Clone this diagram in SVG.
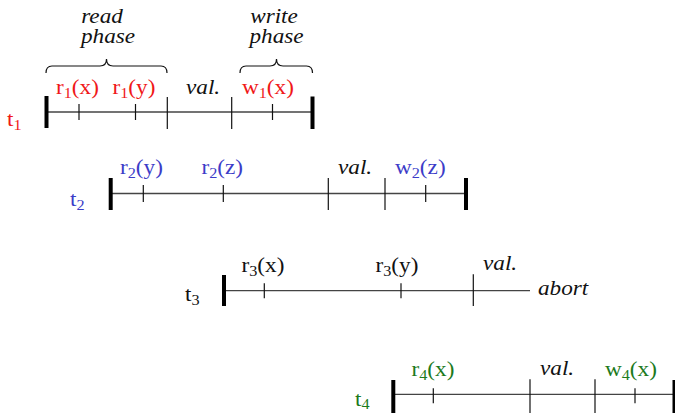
<svg xmlns="http://www.w3.org/2000/svg" width="675" height="413" viewBox="0 0 675 413" font-family="Liberation Serif, Times New Roman, serif">
<style>
text{font-family:'Liberation Serif','Times New Roman',Times,serif;font-size:20px}
.it{font-style:italic;fill:#111}
.red{fill:#f01818}
.blue{fill:#3c3cc8}
.green{fill:#1c7a1c}
.blk{fill:#111}
.s{font-size:14px}
.axis{stroke:#444;stroke-width:1.3;fill:none}
.tk{stroke:#111;stroke-width:1.2}
.bar{stroke:#000;stroke-width:4}
.brace{stroke:#111;stroke-width:1.2;fill:none}
</style>
<g id="t1">
<line class="axis" x1="47" y1="112" x2="312" y2="112"/>
<line class="bar" x1="46.5" y1="96" x2="46.5" y2="128"/>
<line class="bar" x1="312.5" y1="96.5" x2="312.5" y2="129"/>
<line class="tk" x1="79" y1="104" x2="79" y2="120"/>
<line class="tk" x1="135.5" y1="104" x2="135.5" y2="120"/>
<line class="tk" x1="167.3" y1="97" x2="167.3" y2="129"/>
<line class="tk" x1="231.7" y1="97" x2="231.7" y2="129"/>
<line class="tk" x1="272.5" y1="104" x2="272.5" y2="120"/>
<path class="brace" d="M46,73 C46,68 48,66 52,66 L100,66 C104,66 106.5,64 106.5,59 C106.5,64 109,66 113,66 L161,66 C165,66 167,68 167,73"/>
<path class="brace" d="M240,73 C240,68 242,66 246,66 L270,66 C274,66 276.5,64 276.5,59 C276.5,64 279,66 283,66 L306.5,66 C310.5,66 312.5,68 312.5,73"/>
<text class="it" text-anchor="middle" transform="translate(102,23) scale(1.16,1)">read</text>
<text class="it" text-anchor="middle" transform="translate(108,43) scale(1.16,1)">phase</text>
<text class="it" text-anchor="middle" transform="translate(274,23) scale(1.16,1)">write</text>
<text class="it" text-anchor="middle" transform="translate(276.5,43) scale(1.16,1)">phase</text>
<text class="red" transform="translate(7,126) scale(1.16,1)">t<tspan class="s" dy="4">1</tspan></text>
<text class="red" transform="translate(56,94) scale(1.16,1)">r<tspan class="s" dy="4">1</tspan><tspan dy="-4">(x)</tspan></text>
<text class="red" transform="translate(112.5,94) scale(1.16,1)">r<tspan class="s" dy="4">1</tspan><tspan dy="-4">(y)</tspan></text>
<text class="it" transform="translate(186,94) scale(1.16,1)">val.</text>
<text class="red" transform="translate(242,94) scale(1.16,1)">w<tspan class="s" dy="4">1</tspan><tspan dy="-4">(x)</tspan></text>
</g>
<g id="t2">
<line class="axis" x1="111" y1="193.5" x2="466" y2="193.5"/>
<line class="bar" x1="110.7" y1="178" x2="110.7" y2="210"/>
<line class="bar" x1="466" y1="178" x2="466" y2="210"/>
<line class="tk" x1="143.3" y1="185" x2="143.3" y2="202"/>
<line class="tk" x1="223.3" y1="185" x2="223.3" y2="202"/>
<line class="tk" x1="328.3" y1="178" x2="328.3" y2="210"/>
<line class="tk" x1="385" y1="178" x2="385" y2="210"/>
<line class="tk" x1="425.7" y1="185" x2="425.7" y2="202"/>
<text class="blue" transform="translate(70,206) scale(1.16,1)">t<tspan class="s" dy="4">2</tspan></text>
<text class="blue" transform="translate(120,173.5) scale(1.16,1)">r<tspan class="s" dy="4">2</tspan><tspan dy="-4">(y)</tspan></text>
<text class="blue" transform="translate(201.5,173.5) scale(1.16,1)">r<tspan class="s" dy="4">2</tspan><tspan dy="-4">(z)</tspan></text>
<text class="it" transform="translate(338,173.5) scale(1.16,1)">val.</text>
<text class="blue" transform="translate(395,173.5) scale(1.16,1)">w<tspan class="s" dy="4">2</tspan><tspan dy="-4">(z)</tspan></text>
</g>
<g id="t3">
<line class="axis" x1="224" y1="290.7" x2="530" y2="290.7"/>
<line class="bar" x1="224" y1="275" x2="224" y2="306"/>
<line class="tk" x1="264.3" y1="283.3" x2="264.3" y2="298.3"/>
<line class="tk" x1="401" y1="283.3" x2="401" y2="298.3"/>
<line class="tk" x1="473.3" y1="274.3" x2="473.3" y2="306"/>
<text class="blk" transform="translate(185,301) scale(1.16,1)">t<tspan class="s" dy="4">3</tspan></text>
<text class="blk" transform="translate(241.5,272) scale(1.16,1)">r<tspan class="s" dy="4">3</tspan><tspan dy="-4">(x)</tspan></text>
<text class="blk" transform="translate(375.5,272) scale(1.16,1)">r<tspan class="s" dy="4">3</tspan><tspan dy="-4">(y)</tspan></text>
<text class="it" transform="translate(483,270) scale(1.16,1)">val.</text>
<text class="it" transform="translate(538,295) scale(1.16,1)">abort</text>
</g>
<g id="t4">
<line class="axis" x1="393" y1="394.3" x2="675" y2="394.3"/>
<line class="bar" x1="393.3" y1="380" x2="393.3" y2="414"/>
<line class="bar" x1="674.5" y1="380" x2="674.5" y2="414"/>
<line class="tk" x1="433.3" y1="388.3" x2="433.3" y2="403.3"/>
<line class="tk" x1="530" y1="379.3" x2="530" y2="414"/>
<line class="tk" x1="595" y1="379.3" x2="595" y2="414"/>
<line class="tk" x1="635" y1="388.3" x2="635" y2="403.3"/>
<text class="green" transform="translate(355,406) scale(1.16,1)">t<tspan class="s" dy="3">4</tspan></text>
<text class="green" transform="translate(411.5,376) scale(1.16,1)">r<tspan class="s" dy="4">4</tspan><tspan dy="-4">(x)</tspan></text>
<text class="it" transform="translate(540,375) scale(1.16,1)">val.</text>
<text class="green" transform="translate(605,376) scale(1.16,1)">w<tspan class="s" dy="4">4</tspan><tspan dy="-4">(x)</tspan></text>
</g>
<g id="connectors"/>
</svg>
